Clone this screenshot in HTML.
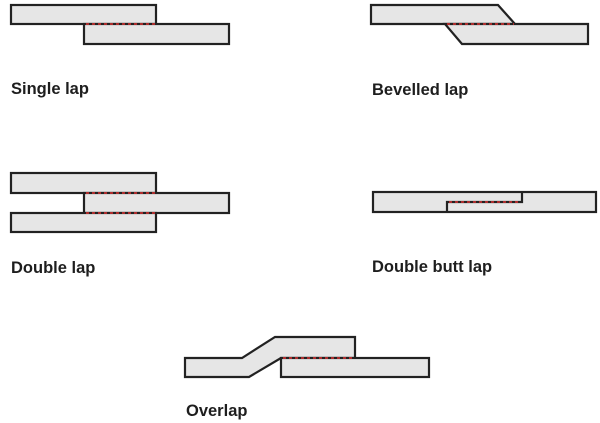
<!DOCTYPE html>
<html><head><style>
body{margin:0;background:#fff;}
svg{display:block}
text{font-family:"Liberation Sans",sans-serif;font-weight:bold;font-size:16.5px;fill:#1e1e1e}
</style></head><body>
<svg width="600" height="423" viewBox="0 0 600 423">
<g fill="#e6e6e6" stroke="#222" stroke-width="2.2" stroke-linejoin="miter">
<rect x="11" y="5" width="145" height="19"/>
<rect x="84" y="24" width="145" height="20"/>
<polygon points="371,5 498,5 515,24 371,24"/>
<polygon points="445,24 588,24 588,44 462,44"/>
<rect x="11" y="173" width="145" height="20"/>
<rect x="84" y="193" width="145" height="20"/>
<rect x="11" y="213" width="145" height="19"/>
<rect x="373" y="192" width="223" height="20"/>
<polyline fill="none" points="447,212 447,202 522,202 522,192"/>
<polygon points="185,358 242,358 275,337 355,337 355,358 281,358 249,377 185,377"/>
<rect x="281" y="358" width="148" height="19"/>
</g>
<g stroke="#d33" stroke-width="1.6" stroke-dasharray="3,3">
<line x1="86" y1="24" x2="155" y2="24"/>
<line x1="447" y1="24" x2="514" y2="24"/>
<line x1="86" y1="193" x2="155" y2="193"/>
<line x1="86" y1="213" x2="155" y2="213"/>
<line x1="449" y1="202" x2="521" y2="202"/>
<line x1="283" y1="358" x2="354" y2="358"/>
</g>
<text x="11" y="94">Single lap</text>
<text x="372" y="95">Bevelled lap</text>
<text x="11" y="273">Double lap</text>
<text x="372" y="272">Double butt lap</text>
<text x="186" y="416">Overlap</text>
</svg>
</body></html>
